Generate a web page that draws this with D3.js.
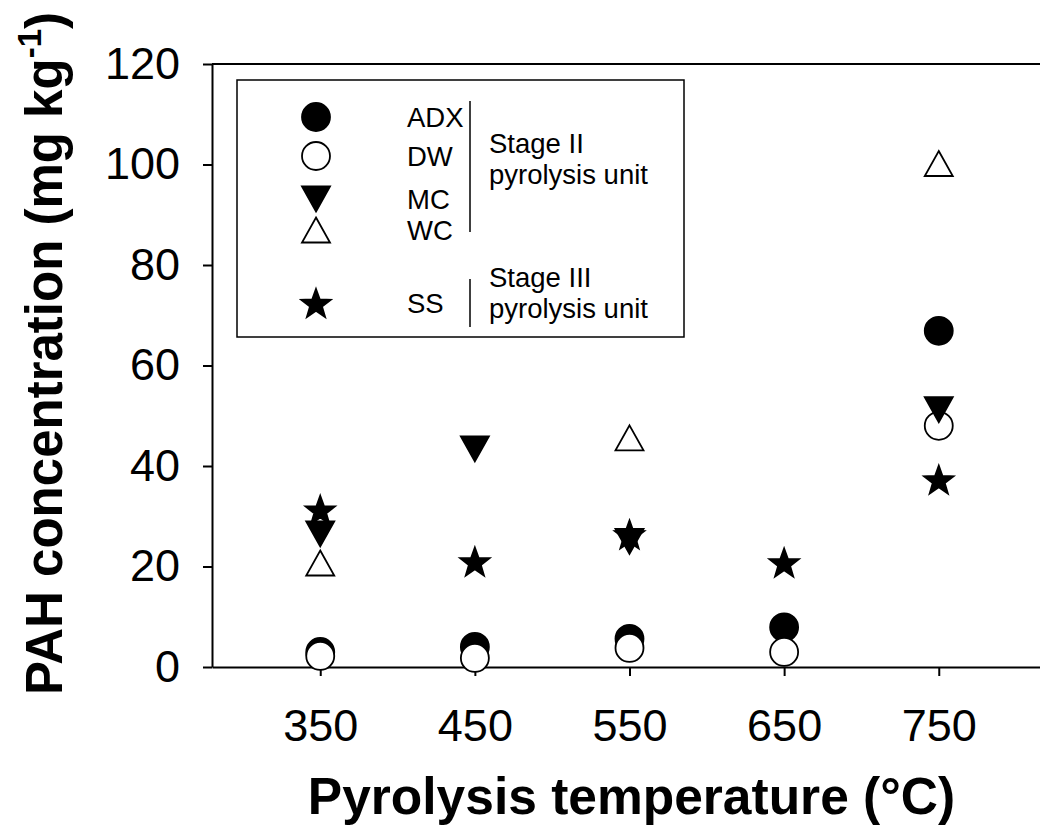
<!DOCTYPE html>
<html>
<head>
<meta charset="utf-8">
<script src="https://cdn.jsdelivr.net/npm/d3@7"></script>
<style>
  body { margin: 0; background: #fff; }
  svg { display: block; font-family: "Liberation Sans", Arial, sans-serif; }
  .axis path, .axis line { stroke: #000; stroke-width: 2; }
  .axis text { font-size: 45px; fill: #000; }
</style>
</head>
<body>
<svg id="chart" width="1040" height="834"></svg>
<script>
// data
var temps = [350, 450, 550, 650, 750];
var yTicks = [0, 20, 40, 60, 80, 100, 120];
var seriesNames = ['ADX', 'DW', 'MC', 'WC', 'SS'];
var adx = [3.0, 4.0, 5.6, 7.9, 66.9];
var dw = [2.2, 1.8, 3.8, 3.0, 48.0];
var mc = [26.5, 43.4, 25.0, null, 51.2];
var wc = [20.7, null, 45.6, null, 100.2];
var ss = [31.3, 21.0, 26.4, 20.8, 37.3];

var seriesValues = [adx, dw, mc, wc, ss];
var seriesShapes = ['circle', 'circle', 'down', 'up', 'star'];
var seriesFill = ['#000', '#fff', '#000', '#fff', '#000'];

var margin = {top: 64, left: 212, bottom: 167},
  plotRight = 1047,
  height = 834 - margin.top - margin.bottom;

var x = d3.scaleLinear().domain([280, 820]).range([margin.left, plotRight]);
var y = d3.scaleLinear().domain([0, 120]).range([margin.top + height, margin.top]);

var svg = d3.select('#chart');

// marker paths, centred on their bounding box
function markerPath(shape) {
  if (shape === 'circle') {
    return d3.symbol().type(d3.symbolCircle).size(Math.PI * 14 * 14)();
  }
  if (shape === 'up') return 'M0,-12.5L14,12.5L-14,12.5Z';
  if (shape === 'down') return 'M0,12.5L14,-12.5L-14,-12.5Z';
  // five pointed star
  var p = [], ro = 15.5, ri = 6.3;
  for (var i = 0; i < 10; i++) {
    var r = i % 2 ? ri : ro, a = -Math.PI / 2 + i * Math.PI / 5;
    p.push([r * Math.cos(a), r * Math.sin(a) + 1.5]);
  }
  return 'M' + p.join('L') + 'Z';
}

// frame top line
svg.append('line')
  .attr('x1', margin.left).attr('x2', plotRight)
  .attr('y1', y(120)).attr('y2', y(120))
  .attr('stroke', '#000').attr('stroke-width', 2);

svg.append('g')
  .attr('class', 'axis')
  .attr('transform', 'translate(0,' + y(0) + ')')
  .call(d3.axisBottom(x).tickValues(temps).tickSize(9).tickSizeOuter(0).tickPadding(33));

svg.append('g')
  .attr('class', 'axis')
  .attr('transform', 'translate(' + margin.left + ',0)')
  .call(d3.axisLeft(y).tickValues(yTicks).tickSize(9).tickSizeOuter(0).tickPadding(23));

// axis titles
svg.append('text')
  .attr('x', (margin.left + plotRight) / 2 + 2)
  .attr('y', 814)
  .attr('text-anchor', 'middle')
  .attr('font-size', 51.5).attr('font-weight', 'bold')
  .text('Pyrolysis temperature (°C)');

var yTitle = svg.append('text')
  .attr('transform', 'translate(62,' + ((y(0) + y(120)) / 2 - 12) + ') rotate(-90)')
  .attr('text-anchor', 'middle')
  .attr('font-size', 51).attr('font-weight', 'bold');
yTitle.append('tspan').text('PAH concentration (mg kg');
yTitle.append('tspan').attr('font-size', 33).attr('dy', -21).text('-1');
yTitle.append('tspan').attr('dy', 21).text(')');

// points
seriesValues.forEach(function(vals, s) {
  svg.append('g').selectAll('path')
    .data(temps.map(function(t, i) { return {t: t, v: vals[i]}; })
      .filter(function(d) { return d.v !== null; }))
    .enter().append('path')
    .attr('d', markerPath(seriesShapes[s]))
    .attr('transform', function(d) { return 'translate(' + x(d.t) + ',' + y(d.v) + ')'; })
    .attr('fill', seriesFill[s])
    .attr('stroke', '#000')
    .attr('stroke-width', 1.8);
});

// legend
var legend = svg.append('g').attr('transform', 'translate(237,80)');
legend.append('rect')
  .attr('width', 447).attr('height', 257)
  .attr('fill', '#fff').attr('stroke', '#000').attr('stroke-width', 1.5);

var rowY = [37, 76, 119, 150, 223];
seriesNames.forEach(function(name, s) {
  legend.append('path')
    .attr('d', markerPath(seriesShapes[s]))
    .attr('transform', 'translate(79,' + rowY[s] + ')')
    .attr('fill', seriesFill[s])
    .attr('stroke', '#000')
    .attr('stroke-width', 1.8);
  legend.append('text')
    .attr('x', 170).attr('y', rowY[s] + 10)
    .attr('font-size', 27.5)
    .text(name);
});

legend.append('line').attr('x1', 233).attr('x2', 233).attr('y1', 21).attr('y2', 152)
  .attr('stroke', '#000').attr('stroke-width', 1.5);
legend.append('line').attr('x1', 233).attr('x2', 233).attr('y1', 199).attr('y2', 247)
  .attr('stroke', '#000').attr('stroke-width', 1.5);

var groupText = [['Stage II', 'pyrolysis unit', 73], ['Stage III', 'pyrolysis unit', 207]];
groupText.forEach(function(g) {
  var t = legend.append('text').attr('font-size', 27.5);
  t.append('tspan').attr('x', 252).attr('y', g[2]).text(g[0]);
  t.append('tspan').attr('x', 252).attr('dy', 31).text(g[1]);
});
</script>
</body>
</html>
